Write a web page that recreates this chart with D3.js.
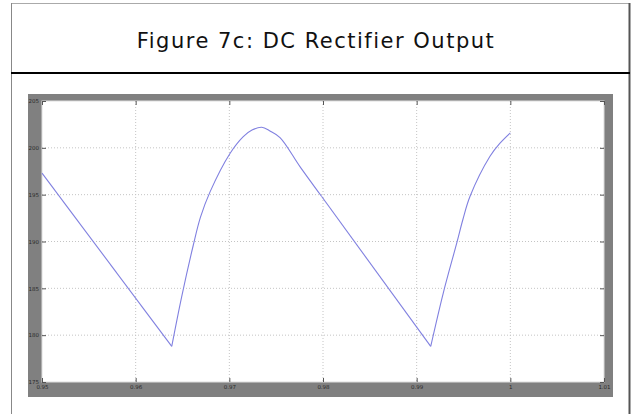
<!DOCTYPE html>
<html>
<head>
<meta charset="utf-8">
<script src="https://cdn.jsdelivr.net/npm/d3@7"></script>
<style>
    body { margin: 0; background: #fff; }
    svg { display: block; }
</style>
</head>
<body>
<div id="chart"></div>
<script>

const title = 'Figure 7c: DC Rectifier Output';

// time (s) and rectifier output voltage
const times = [0.95, 0.96385, 0.96491, 0.96615, 0.96692, 0.96794, 0.97007, 0.97149, 0.97242,
    0.97346, 0.97434, 0.97541, 0.97754, 0.97986, 0.99150, 0.99284, 0.99427, 0.99495,
    0.99569, 0.99783, 0.99890, 1.0];
const volts = [197.3, 178.8, 184.1, 189.6, 192.6, 195.3, 199.4, 201.2, 201.9,
    202.2, 201.8, 201.1, 198.0, 194.8, 178.8, 184.5, 189.8, 192.4,
    194.8, 199.1, 200.5, 201.6];

// index ranges: capacitor discharge (straight) / diode conduction (curved)
const segments = [
    { from: 0, to: 1, curved: false },
    { from: 1, to: 13, curved: true },
    { from: 13, to: 14, curved: false },
    { from: 14, to: 21, curved: true }
];

const xTicks = [0.95, 0.96, 0.97, 0.98, 0.99, 1, 1.01];
const yTicks = [175, 180, 185, 190, 195, 200, 205];

function drawChart() {
    const svg = d3.select('#chart')
        .append('svg')
        .attr('width', 632)
        .attr('height', 414);

    // outer box + title
    svg.append('line').attr('x1', 11).attr('x2', 630).attr('y1', 3.5).attr('y2', 3.5)
        .attr('stroke', '#aaa').attr('stroke-width', 1);
    svg.append('line').attr('x1', 11.5).attr('x2', 11.5).attr('y1', 3).attr('y2', 414)
        .attr('stroke', '#888').attr('stroke-width', 1);
    svg.append('line').attr('x1', 629.5).attr('x2', 629.5).attr('y1', 3).attr('y2', 414)
        .attr('stroke', '#555').attr('stroke-width', 2);
    svg.append('line').attr('x1', 11).attr('x2', 630).attr('y1', 73).attr('y2', 73)
        .attr('stroke', '#000').attr('stroke-width', 2);

    svg.append('text')
        .attr('x', 316)
        .attr('y', 48)
        .attr('text-anchor', 'middle')
        .attr('font-family', 'DejaVu Sans')
        .attr('font-size', 21)
        .attr('letter-spacing', 1.5)
        .attr('fill', '#111')
        .text(title);

    // grey figure frame
    svg.append('rect')
        .attr('x', 28).attr('y', 94)
        .attr('width', 585).attr('height', 303)
        .attr('fill', '#808080');

    const x = d3.scaleLinear().domain([0.95, 1.01]).range([42, 604]);
    const y = d3.scaleLinear().domain([175, 205]).range([382, 101]);

    svg.append('rect')
        .attr('x', 42).attr('y', 101)
        .attr('width', 562).attr('height', 281)
        .attr('fill', '#fff')
        .attr('stroke', '#ddd');

    // grid
    const grid = svg.append('g');
    grid.selectAll('.gx')
        .data(xTicks.slice(1, -1))
        .enter()
        .append('line')
        .attr('x1', d => x(d)).attr('x2', d => x(d))
        .attr('y1', 101).attr('y2', 382)
        .attr('stroke', '#c4c4c4')
        .attr('stroke-dasharray', '1,2');
    grid.selectAll('.gy')
        .data(yTicks.slice(1, -1))
        .enter()
        .append('line')
        .attr('x1', 42).attr('x2', 604)
        .attr('y1', d => y(d)).attr('y2', d => y(d))
        .attr('stroke', '#c4c4c4')
        .attr('stroke-dasharray', '1,2');

    // axes with inward ticks
    svg.append('g')
        .attr('transform', 'translate(0,382)')
        .call(d3.axisBottom(x).tickValues(xTicks).tickSizeInner(-4).tickSizeOuter(0)
            .tickFormat(d3.format('')).tickPadding(3));
    svg.append('g')
        .attr('transform', 'translate(42,0)')
        .call(d3.axisLeft(y).tickValues(yTicks).tickSizeInner(-4).tickSizeOuter(0)
            .tickPadding(3));
    svg.append('g')
        .attr('transform', 'translate(604,0)')
        .call(d3.axisRight(y).tickValues(yTicks).tickSizeInner(-4).tickSizeOuter(0)
            .tickFormat(''));
    svg.append('g')
        .attr('transform', 'translate(0,101)')
        .call(d3.axisTop(x).tickValues(xTicks).tickSizeInner(-4).tickSizeOuter(0)
            .tickFormat(''));

    svg.selectAll('.domain').remove();
    svg.selectAll('.tick line').attr('stroke', '#555');
    svg.selectAll('.tick text')
        .attr('font-family', 'DejaVu Sans')
        .attr('font-size', 5.5)
        .attr('fill', '#2a2a2a');

    // trace, one path per segment
    const pts = times.map((t, i) => [t, volts[i]]);
    const straight = d3.line().x(d => x(d[0])).y(d => y(d[1]));
    const smooth = d3.line().x(d => x(d[0])).y(d => y(d[1])).curve(d3.curveCatmullRom.alpha(0.5));

    svg.selectAll('.trace')
        .data(segments)
        .enter()
        .append('path')
        .attr('d', s => (s.curved ? smooth : straight)(pts.slice(s.from, s.to + 1)))
        .attr('fill', 'none')
        .attr('stroke', '#8080e0')
        .attr('stroke-width', 1.1);
}

drawChart();
</script>
</body>
</html>
